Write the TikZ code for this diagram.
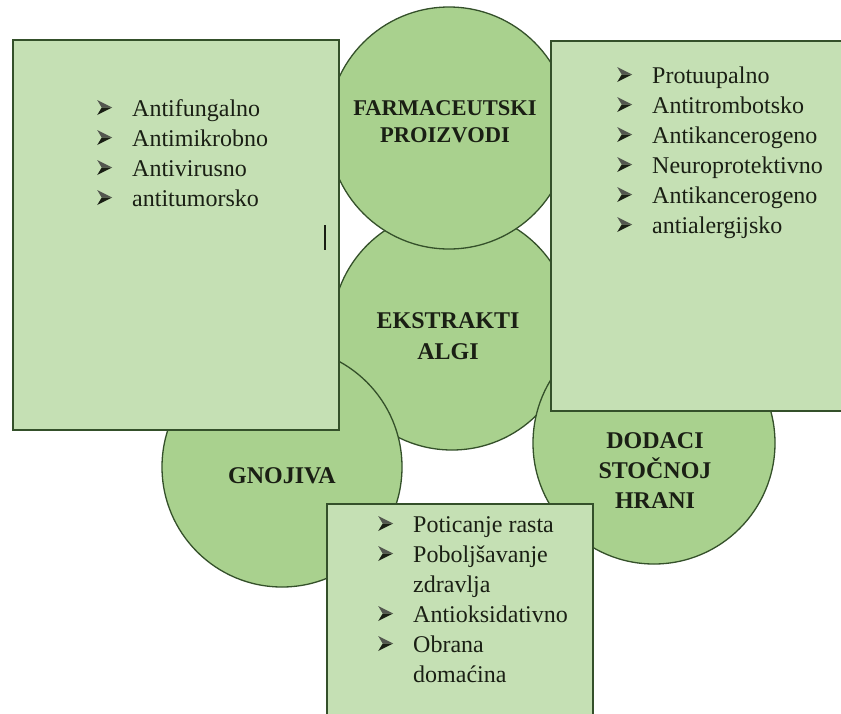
\documentclass[tikz,border=0pt]{standalone}
\usepackage{fontspec}
\setmainfont{Liberation Serif}
\definecolor{boxfill}{HTML}{C5E0B4}
\definecolor{circfill}{HTML}{A9D18E}
\definecolor{edgecol}{HTML}{34502A}
\definecolor{txtcol}{HTML}{1A1F14}
\newcommand{\arrowbul}{\tikz[baseline=0pt,x=1pt,y=1pt]{%
  \fill[txtcol!75] (0,15) -- (15,7.5) -- (4.5,7.5) -- cycle;
  \fill[txtcol] (0,0) -- (15,7.5) -- (4.5,7.5) -- cycle;}}
\newcommand{\bul}{\makebox[35pt][l]{\raisebox{1pt}{\arrowbul}}}
\newcommand{\ind}{\hspace*{35pt}}
\begin{document}
\begin{tikzpicture}[x=1pt,y=-1pt,
  circ/.style={circle,draw=edgecol,fill=circfill,line width=1.3pt,inner sep=0pt,minimum size=240pt},
  panel/.style={rectangle,draw=edgecol,fill=boxfill,line width=1.8pt,inner sep=0pt,anchor=north west},
  clabel/.style={anchor=base,inner sep=0pt,text=txtcol,font=\bfseries\fontsize{24}{30}\selectfont,align=center},
  blist/.style={anchor=base west,inner sep=0pt,text=txtcol}
]
\fill[white] (0,0) rectangle (841,713);
\useasboundingbox (0,0) rectangle (841,713);
% circles
\node[circ] (ekstr) at (452,330) {};
\node[circ, minimum size=242pt] (farm) at (449,128) {};
\node[circ] (gnoj) at (282,467) {};
\node[circ, minimum size=242pt] (dod) at (654,443) {};
% panels
\node[panel, minimum width=326pt, minimum height=390pt] (lbox) at (12,39) {};
\node[panel, minimum width=310pt, minimum height=370pt] (rbox) at (550,40) {};
\node[panel, minimum width=266pt, minimum height=240pt] (bbox) at (326,503) {};
% cursor mark
\coordinate (cura) at (325,225);
\coordinate (curb) at (325,250);
\draw[txtcol, line width=1.2pt] (cura) -- (curb);
% circle labels (anchor base = last line)
\node[clabel, font=\bfseries\fontsize{22.5}{27}\selectfont] (farmt) at (445,142) {FARMACEUTSKI\\PROIZVODI};
\node[clabel, font=\bfseries\fontsize{24}{31}\selectfont] (ekstrt) at (448,359) {EKSTRAKTI\\ALGI};
\node[clabel] (gnojt) at (282,483) {GNOJIVA};
\node[clabel] (dodt) at (655,508) {DODACI\\STOČNOJ\\HRANI};
% lists
\node[blist] (llist) at (97,116) {\parbox[t]{240pt}{\fontsize{24}{30}\selectfont
\bul Antifungalno\\
\bul Antimikrobno\\
\bul Antivirusno\\
\bul antitumorsko}};
\node[blist] (rlist) at (617,83) {\parbox[t]{240pt}{\fontsize{24}{30}\selectfont
\bul Protuupalno\\
\bul Antitrombotsko\\
\bul Antikancerogeno\\
\bul Neuroprotektivno\\
\bul Antikancerogeno\\
\bul antialergijsko}};
\node[blist] (blistn) at (378,532) {\parbox[t]{240pt}{\fontsize{24}{30}\selectfont
\bul Poticanje rasta\\
\bul Poboljšavanje\\
\ind zdravlja\\
\bul Antioksidativno\\
\bul Obrana\\
\ind domaćina}};
\end{tikzpicture}
\end{document}
